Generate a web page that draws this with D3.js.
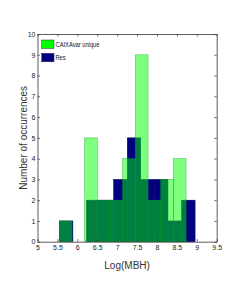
<!DOCTYPE html>
<html>
<head>
<meta charset="utf-8">
<script src="https://cdn.jsdelivr.net/npm/d3@7"></script>
<style>
  body { margin: 0; background: white; }
  text { font-family: "Liberation Sans Narrow", "Liberation Sans", Arial, sans-serif; }
</style>
</head>
<body>
<div id="vis"></div>
<script>
// histogram bins (bin edges in Log(MBH))
let caixaEdges = [5.548, 5.867, 6.183, 6.503, 6.822, 7.138, 7.457, 7.776, 8.093, 8.412, 8.731];
let caixaCounts = [1, 0, 5, 2, 2, 4, 9, 2, 3, 4];
let resEdges = [5.548, 5.889, 6.229, 6.570, 6.912, 7.254, 7.593, 7.935, 8.276, 8.616, 8.957];
let resCounts = [1, 0, 2, 2, 3, 5, 3, 3, 1, 2];

let xTicks = [5, 5.5, 6, 6.5, 7, 7.5, 8, 8.5, 9, 9.5];
let yTicks = [0, 1, 2, 3, 4, 5, 6, 7, 8, 9, 10];
let seriesNames = ['CAIXAvar unique', 'Res'];

let W = 240, H = 284;
let margin = { top: 34, left: 37.5, right: 23.3, bottom: 42.3 };

let svg = d3.select('#vis')
  .append('svg')
  .attr('width', W)
  .attr('height', H)
  .style('background-color', 'white');

let x = d3.scaleLinear().domain([5, 9.5]).range([margin.left, W - margin.right]);
let y = d3.scaleLinear().domain([0, 10]).range([H - margin.bottom, margin.top]);

function bins(edges, counts) {
  return counts.map((c, i) => ({ x0: edges[i], x1: edges[i + 1], n: c })).filter(d => d.n > 0);
}

// Res first, then the half transparent green on top
svg.append('g').selectAll('rect')
  .data(bins(resEdges, resCounts))
  .join('rect')
  .attr('x', d => x(d.x0))
  .attr('width', d => x(d.x1) - x(d.x0))
  .attr('y', d => y(d.n))
  .attr('height', d => y(0) - y(d.n))
  .attr('fill', '#000080')
  .attr('stroke', '#000050')
  .attr('stroke-width', 0.5);

svg.append('g').selectAll('rect')
  .data(bins(caixaEdges, caixaCounts))
  .join('rect')
  .attr('x', d => x(d.x0))
  .attr('width', d => x(d.x1) - x(d.x0))
  .attr('y', d => y(d.n))
  .attr('height', d => y(0) - y(d.n))
  .attr('fill', '#00ff00')
  .attr('fill-opacity', 0.5)
  .attr('stroke', '#00a020')
  .attr('stroke-opacity', 0.6)
  .attr('stroke-width', 0.6);

// axes, ticks pointing inward
let axBottom = svg.append('g')
  .attr('transform', `translate(0,${y(0)})`)
  .call(d3.axisBottom(x).tickValues(xTicks).tickFormat(d3.format('')).tickSizeInner(-2.5).tickSizeOuter(0).tickPadding(3));
let axLeft = svg.append('g')
  .attr('transform', `translate(${x(5)},0)`)
  .call(d3.axisLeft(y).tickValues(yTicks).tickSizeInner(-2.5).tickSizeOuter(0).tickPadding(2));
let axTop = svg.append('g')
  .attr('transform', `translate(0,${y(10)})`)
  .call(d3.axisTop(x).tickValues(xTicks).tickFormat('').tickSizeInner(-2.5).tickSizeOuter(0));
let axRight = svg.append('g')
  .attr('transform', `translate(${x(9.5)},0)`)
  .call(d3.axisRight(y).tickValues(yTicks).tickFormat('').tickSizeInner(-2.5).tickSizeOuter(0));

[axBottom, axLeft, axTop, axRight].forEach(g => {
  g.selectAll('.domain').attr('stroke', '#333').attr('stroke-width', 0.8);
  g.selectAll('.tick line').attr('stroke', '#333').attr('stroke-width', 0.7);
  g.selectAll('text').attr('font-size', 7).attr('fill', '#222')
    .attr('font-family', '"Liberation Sans Narrow", "Liberation Sans", Arial, sans-serif');
});

// axis titles
svg.append('text')
  .attr('x', (x(5) + x(9.5)) / 2)
  .attr('y', 269)
  .attr('text-anchor', 'middle')
  .attr('font-size', 10)
  .attr('fill', '#333')
  .text('Log(MBH)');

svg.append('text')
  .attr('transform', `translate(27,${(y(0) + y(10)) / 2}) rotate(-90)`)
  .attr('text-anchor', 'middle')
  .attr('font-size', 10)
  .attr('fill', '#333')
  .attr('font-family', '"Liberation Sans", Arial, sans-serif')
  .text('Number of occurrences');

// legend
let legendColors = ['#00ff00', '#000080'];
let legendWidths = [44, 10];
let legend = svg.append('g');
seriesNames.forEach((name, i) => {
  let ly = 40 + i * 13.3;
  legend.append('rect')
    .attr('x', 41.7).attr('y', ly)
    .attr('width', 12.3).attr('height', 8.5)
    .attr('fill', legendColors[i])
    .attr('stroke', '#333').attr('stroke-width', 0.5);
  legend.append('text')
    .attr('x', 55.5).attr('y', ly + 6.8)
    .attr('font-size', 7)
    .attr('fill', '#111')
    .attr('textLength', legendWidths[i])
    .attr('lengthAdjust', 'spacingAndGlyphs')
    .text(name);
});
</script>
</body>
</html>
